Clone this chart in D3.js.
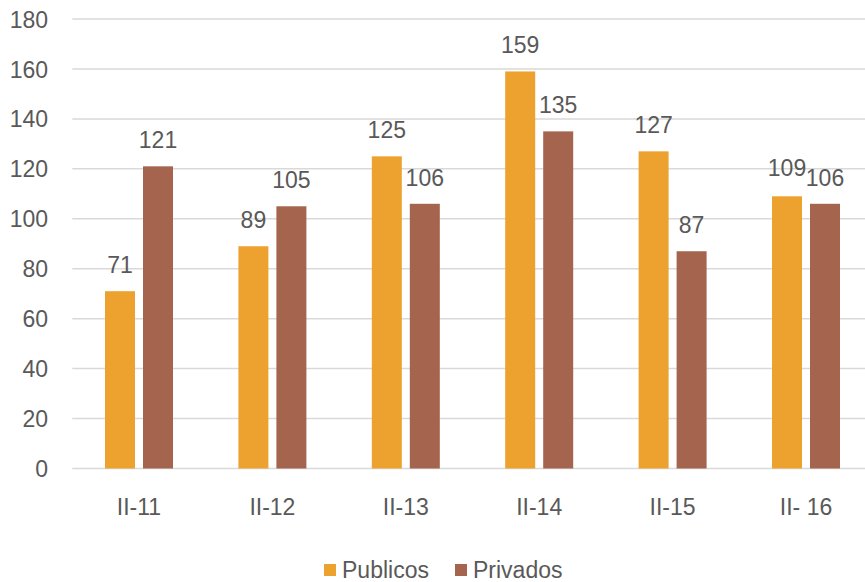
<!DOCTYPE html>
<html><head><meta charset="utf-8">
<script src="https://cdn.jsdelivr.net/npm/d3@7"></script>
<style>body{margin:0;background:#fff}svg{display:block}text{font-family:"Liberation Sans",Arial,sans-serif;fill:#595959}</style>
</head><body><svg id="c" width="865" height="582"></svg>
<script>
const categories = ["II-11","II-12","II-13","II-14","II-15","II-16"];
const categoryLabels = ["II-11","II-12","II-13","II-14","II-15","II- 16"];
const seriesNames = ["Publicos","Privados"];
const publicos = [71,89,125,159,127,109];
const privados = [121,105,106,135,87,106];
const yTicks = [0,20,40,60,80,100,120,140,160,180];
const colors = ["#EDA22F","#A5644E"];

const FS = 23;
const svg = d3.select("#c");
const pLeft = 72.3, pRight = 872.7, pTop = 19, pBottom = 468.5;
const x = d3.scaleBand().domain(categories).range([pLeft,pRight]).paddingInner(0).paddingOuter(0);
const xs = d3.scaleBand().domain(seriesNames).range([32.7, 133.4-32.7]).paddingInner(8/38).paddingOuter(0);
const y = d3.scaleLinear().domain([0,180]).range([pBottom,pTop]);

// gridlines
svg.append("g").selectAll("line").data(yTicks).join("line")
  .attr("x1",pLeft).attr("x2",pRight).attr("y1",d=>y(d)).attr("y2",d=>y(d))
  .attr("stroke","#d9d9d9").attr("stroke-width",1.5);

// y axis labels
const yAxis = d3.axisLeft(y).tickValues(yTicks).tickSize(0).tickPadding(0);
const ga = svg.append("g").attr("transform","translate(48,0)").call(yAxis);
ga.select(".domain").remove();
ga.selectAll("text").attr("font-size",FS).style("font-family","'Liberation Sans',Arial,sans-serif").attr("fill","#595959").attr("dy","0.35em");

// x axis labels
const xAxis = d3.axisBottom(x).tickSize(0).tickPadding(0).tickFormat((d,i)=>categoryLabels[i]);
const gx = svg.append("g").attr("transform","translate(0,499)").call(xAxis);
gx.select(".domain").remove();
gx.selectAll("text").attr("font-size",FS).style("font-family","'Liberation Sans',Arial,sans-serif").attr("fill","#595959").attr("dy","0.35em").attr("y",8);

const data = [publicos, privados];
seriesNames.forEach((s,si)=>{
  const g = svg.append("g");
  g.selectAll("rect").data(categories).join("rect")
    .attr("x",c=>x(c)+xs(s)).attr("width",xs.bandwidth())
    .attr("y",(c,i)=>y(data[si][i])).attr("height",(c,i)=>pBottom-y(data[si][i]))
    .attr("fill",colors[si]);
  g.selectAll("text").data(categories).join("text")
    .attr("x",(c,i)=>x(c)+xs(s)+xs.bandwidth()/2)
    .attr("y",(c,i)=>y(data[si][i]) - 18 + ((c==="II-16"&&si===0)?-2:0))
    .attr("text-anchor","middle").attr("font-size",FS)
    .text((c,i)=>data[si][i]);
});

// legend
const legendX = [324, 455];
const lg = svg.append("g");
seriesNames.forEach((s,i)=>{
  lg.append("rect").attr("x",legendX[i]).attr("y",564).attr("width",12).attr("height",12).attr("fill",colors[i]);
  lg.append("text").attr("x",legendX[i]+18).attr("y",570).attr("dy","0.35em").attr("font-size",FS).text(s);
});
</script></body></html>
